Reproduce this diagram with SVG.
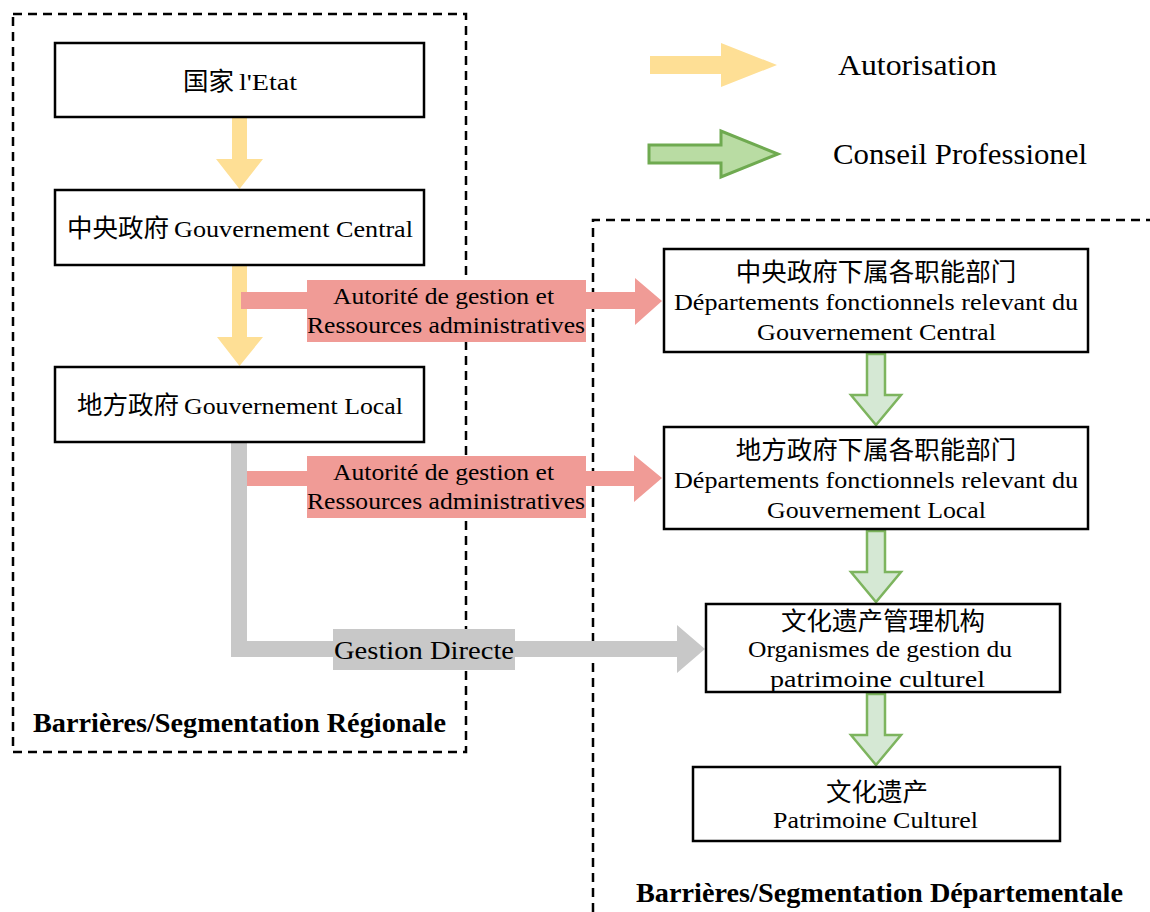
<svg xmlns="http://www.w3.org/2000/svg" width="1150" height="912" viewBox="0 0 1150 912">
  <style>
    .zone { fill: none; stroke: #000; stroke-width: 2.5; stroke-dasharray: 9 6; }
    .box { fill: #fff; stroke: #000; stroke-width: 2.5; }
    .t { font-family: "Liberation Serif", "Noto Sans CJK SC", serif; fill: #000; text-anchor: middle; }
    .s { text-anchor: start; }
    .node { font-size: 24px; }
    .cjk { font-size: 25.5px; }
    .lbl { font-size: 23px; }
    .direct-lbl { font-size: 26px; }
    .legend { font-size: 30px; text-anchor: start; }
    .zoneTitle { font-size: 27px; font-weight: bold; text-anchor: start; }
    .auth { fill: #fedf95; }
    .res { fill: #f09b96; }
    .direct { fill: #c8c8c8; }
    .advice { fill: #d5e8d4; stroke: #7db45e; stroke-width: 2.5; stroke-linejoin: miter; }
    .adviceKey { fill: #b9dca3; stroke: #6faa50; stroke-width: 3; }
  </style>

  <!-- segmentation zones -->
  <g id="zone-regional">
    <rect class="zone" x="13" y="14" width="453" height="738"/>
    <text class="t zoneTitle" x="33" y="732" textLength="413" lengthAdjust="spacingAndGlyphs">Barrières/Segmentation Régionale</text>
  </g>
  <g id="zone-departmental">
    <path class="zone" d="M593,912 V220 H1150"/>
    <text class="t zoneTitle" x="636" y="902" textLength="487" lengthAdjust="spacingAndGlyphs">Barrières/Segmentation Départementale</text>
  </g>

  <!-- legend -->
  <g id="legend">
    <polygon class="auth" points="650,56 721,56 721,43 777,65 721,87 721,74 650,74"/>
    <text class="t legend" x="838" y="75" textLength="159" lengthAdjust="spacingAndGlyphs">Autorisation</text>
    <polygon class="adviceKey" points="649,145 721,145 721,131 778,154 721,177 721,163 649,163"/>
    <text class="t legend" x="833" y="164" textLength="254" lengthAdjust="spacingAndGlyphs">Conseil Professionel</text>
  </g>

  <!-- connectors -->
  <g id="connectors">
    <!-- authorisation chain -->
    <polygon class="auth" points="232,117 247,117 247,159 263,159 239.5,189 216,159 232,159"/>
    <polygon class="auth" points="232,265 247,265 247,337 263,337 239.5,366 217,337 232,337"/>

    <!-- administrative resources to central departments -->
    <polygon class="res" points="241,292 635,292 635,278 662,301 635,325 635,309 241,309"/>
    <rect class="res" x="307" y="280" width="279" height="62"/>
    <text class="t lbl" x="443.5" y="304" textLength="221" lengthAdjust="spacingAndGlyphs">Autorité de gestion et</text>
    <text class="t lbl" x="446" y="333" textLength="278" lengthAdjust="spacingAndGlyphs">Ressources administratives</text>

    <!-- direct management -->
    <polygon class="direct" points="231,443 247,443 247,641 677,641 677,625 705,649 677,673 677,657 231,657"/>
    <rect class="direct" x="333" y="629" width="182" height="41"/>
    <text class="t direct-lbl" x="424" y="659" textLength="180" lengthAdjust="spacingAndGlyphs">Gestion Directe</text>

    <!-- administrative resources to local departments -->
    <polygon class="res" points="247,471 634,471 634,455 662,478 634,502 634,486 247,486"/>
    <rect class="res" x="307" y="456" width="279" height="62"/>
    <text class="t lbl" x="443.5" y="480" textLength="221" lengthAdjust="spacingAndGlyphs">Autorité de gestion et</text>
    <text class="t lbl" x="446" y="509" textLength="278" lengthAdjust="spacingAndGlyphs">Ressources administratives</text>

    <!-- professional advice chain -->
    <polygon class="advice" points="867,354 885,354 885,395 901,395 876,425 851,395 867,395"/>
    <polygon class="advice" points="867,531 885,531 885,572 901,572 876,602 851,572 867,572"/>
    <polygon class="advice" points="867,694 885,694 885,735 901,735 876,765 851,735 867,735"/>
  </g>

  <!-- nodes -->
  <g id="state">
    <rect class="box" x="55" y="43" width="369" height="74"/>
    <text class="t cjk s" x="183" y="90">国家</text>
    <text class="t node s" x="239" y="90" textLength="58" lengthAdjust="spacingAndGlyphs">l'Etat</text>
  </g>
  <g id="central-gov">
    <rect class="box" x="55" y="190" width="369" height="75"/>
    <text class="t cjk s" x="67" y="237">中央政府</text>
    <text class="t node s" x="174" y="237" textLength="239" lengthAdjust="spacingAndGlyphs">Gouvernement Central</text>
  </g>
  <g id="local-gov">
    <rect class="box" x="55" y="367" width="369" height="75"/>
    <text class="t cjk s" x="77" y="414">地方政府</text>
    <text class="t node s" x="184" y="414" textLength="219" lengthAdjust="spacingAndGlyphs">Gouvernement Local</text>
  </g>
  <g id="central-depts">
    <rect class="box" x="664" y="249" width="424" height="103"/>
    <text class="t cjk" x="876" y="281">中央政府下属各职能部门</text>
    <text class="t node" x="876" y="310" textLength="404" lengthAdjust="spacingAndGlyphs">Départements fonctionnels relevant du</text>
    <text class="t node" x="876.5" y="340" textLength="239" lengthAdjust="spacingAndGlyphs">Gouvernement Central</text>
  </g>
  <g id="local-depts">
    <rect class="box" x="664" y="427" width="424" height="102"/>
    <text class="t cjk" x="876" y="459">地方政府下属各职能部门</text>
    <text class="t node" x="876" y="488" textLength="404" lengthAdjust="spacingAndGlyphs">Départements fonctionnels relevant du</text>
    <text class="t node" x="876.5" y="518" textLength="219" lengthAdjust="spacingAndGlyphs">Gouvernement Local</text>
  </g>
  <g id="heritage-agencies">
    <rect class="box" x="706" y="604" width="354" height="88"/>
    <text class="t cjk" x="883" y="630">文化遗产管理机构</text>
    <text class="t node" x="880" y="657" textLength="264" lengthAdjust="spacingAndGlyphs">Organismes de gestion du</text>
    <text class="t node" x="877.5" y="687" textLength="215" lengthAdjust="spacingAndGlyphs">patrimoine culturel</text>
  </g>
  <g id="heritage">
    <rect class="box" x="693" y="767" width="367" height="74"/>
    <text class="t cjk" x="877" y="801">文化遗产</text>
    <text class="t node" x="875.5" y="828" textLength="205" lengthAdjust="spacingAndGlyphs">Patrimoine Culturel</text>
  </g>
</svg>
